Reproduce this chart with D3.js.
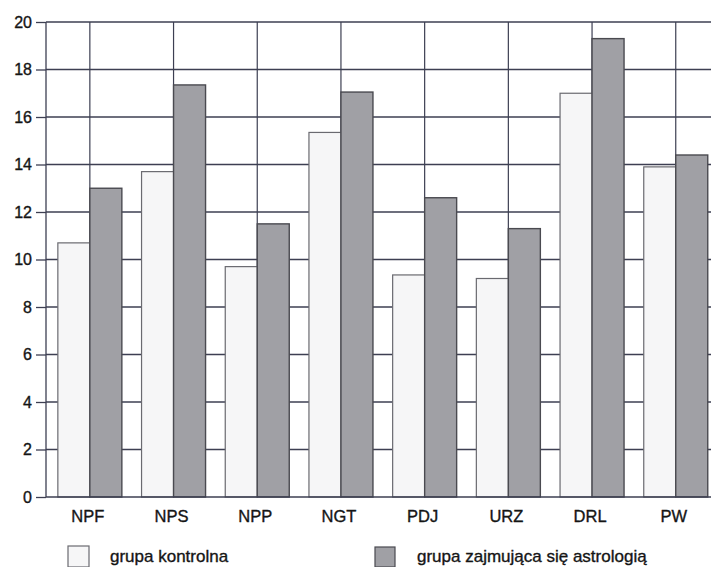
<!DOCTYPE html>
<html><head><meta charset="utf-8">
<script src="https://cdn.jsdelivr.net/npm/d3@7/dist/d3.min.js"></script>
<style>body{margin:0;background:#fff}svg{display:block}text{font-family:"Liberation Sans",Arial,sans-serif;fill:#151515;stroke:#151515;stroke-width:0.35px}</style>
</head><body><svg id="c" width="711" height="567"></svg>
<script>
const categories = ["NPF","NPS","NPP","NGT","PDJ","URZ","DRL","PW"];
const kontrolna = [10.7,13.7,9.7,15.35,9.35,9.2,17.0,13.9];
const astrologia = [13.0,17.35,11.5,17.05,12.6,11.3,19.3,14.4];
const yTicks = [0,2,4,6,8,10,12,14,16,18,20];
const seriesNames = ["grupa kontrolna","grupa zajmująca się astrologią"];

(function(){
const svg = d3.select("#c");
const mLeft = 46, mBottom = 497, mTop = 22;
const x = d3.scaleBand().domain(categories).range([48, 48 + 83.7*8]).paddingInner(0).paddingOuter(0);
const y = d3.scaleLinear().domain([0,20]).range([mBottom, mTop]);
const gridC = "#3d3f52";

// horizontal grid
svg.append("g").selectAll("line").data(yTicks.filter(d=>d>0)).join("line")
  .attr("x1", mLeft).attr("x2", 711).attr("y1", d=>y(d)).attr("y2", d=>y(d))
  .attr("stroke", gridC).attr("stroke-width", 1.3);
// vertical grid at category centres
svg.append("g").selectAll("line").data(categories).join("line")
  .attr("x1", d=>x(d)+x.bandwidth()/2).attr("x2", d=>x(d)+x.bandwidth()/2)
  .attr("y1", mTop).attr("y2", mBottom)
  .attr("stroke", gridC).attr("stroke-width", 1.2);

const bw = 32;
// white bars
svg.append("g").selectAll("rect").data(categories).join("rect")
  .attr("x", (d)=>x(d)+x.bandwidth()/2 - bw)
  .attr("width", bw)
  .attr("y", (d,i)=>y(kontrolna[i]))
  .attr("height", (d,i)=>mBottom - y(kontrolna[i]))
  .attr("fill", "#f6f6f7").attr("stroke", "#6a6a70").attr("stroke-width", 1.2);
// gray bars
svg.append("g").selectAll("rect").data(categories).join("rect")
  .attr("x", (d)=>x(d)+x.bandwidth()/2)
  .attr("width", bw)
  .attr("y", (d,i)=>y(astrologia[i]))
  .attr("height", (d,i)=>mBottom - y(astrologia[i]))
  .attr("fill", "#a0a0a5").attr("stroke", "#4a4a50").attr("stroke-width", 1.4);

// y axis
const ya = d3.axisLeft(y).tickValues(yTicks).tickSize(10).tickPadding(4);
const gy = svg.append("g").attr("transform", `translate(${mLeft},0)`).call(ya);
gy.select(".domain").attr("stroke", gridC).attr("stroke-width",1.3).attr("d", `M0,${mTop}V${mBottom}`);
gy.selectAll(".tick line").attr("stroke", gridC).attr("stroke-width",1.3);
gy.selectAll(".tick text").style("font-size","16px").attr("fill","#151515").attr("x", -14);

// x axis
const xa = d3.axisBottom(x).tickSize(0).tickPadding(13);
const gx = svg.append("g").attr("transform", `translate(0,${mBottom})`).call(xa);
gx.select(".domain").attr("stroke", gridC).attr("stroke-width",1.3).attr("d", `M${mLeft},0H711`);
gx.selectAll(".tick text").style("font-size","16.5px").attr("fill","#151515").attr("dx", -2);

// legend
const lg = svg.append("g");
lg.append("rect").attr("x",68).attr("y",546).attr("width",21).attr("height",21)
  .attr("fill","#f6f6f7").attr("stroke","#6a6a70").attr("stroke-width",1.2);
lg.append("text").attr("x",110).attr("y",562).style("font-size","17px").text(seriesNames[0]);
lg.append("rect").attr("x",375).attr("y",547).attr("width",20).attr("height",20)
  .attr("fill","#a0a0a5").attr("stroke","#4a4a50").attr("stroke-width",1.2);
lg.append("text").attr("x",417).attr("y",562).style("font-size","17px").text(seriesNames[1]);
})();
</script></body></html>
